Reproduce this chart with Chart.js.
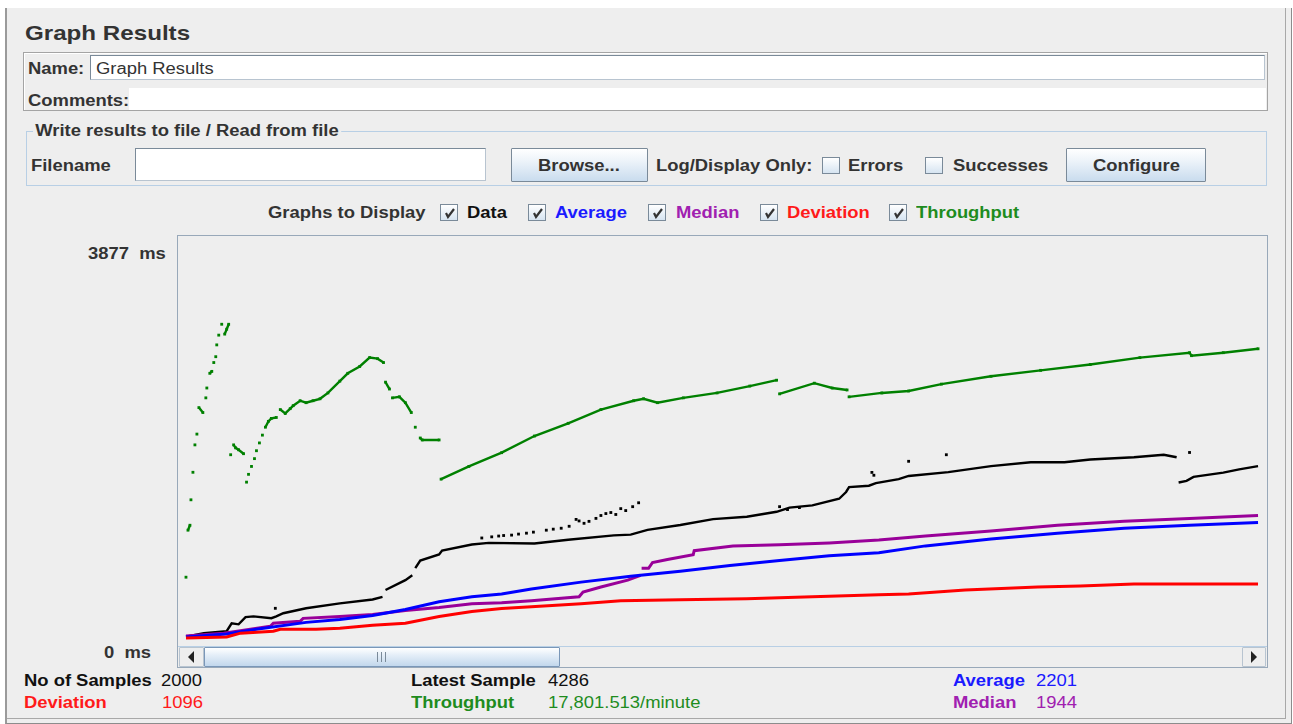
<!DOCTYPE html>
<html>
<head>
<meta charset="utf-8">
<script src="https://cdn.jsdelivr.net/npm/chart.js@4.4.1/dist/chart.umd.min.js"></script>
<style>
  * { box-sizing: border-box; }
  body { margin: 0; width: 1293px; height: 724px; background: #fff; overflow: hidden; position: relative;
         font-family: "Liberation Sans", Arial, sans-serif; color: #333; }
  .abs { position: absolute; }
  .tx { position: absolute; white-space: pre; font-size: 16px; line-height: 16px;
        transform: scaleX(1.15); transform-origin: 0 0; }
  .b { font-weight: bold; }
  .field { position: absolute; background: #fff; border: 1px solid #7a8a99; border-right-color: #b8c4d0; border-bottom-color: #b8c4d0; }
  .btn { position: absolute; border: 1px solid #7a8a99; border-radius: 1px;
         background: linear-gradient(#ffffff 0%, #eef4fa 35%, #c9dcee 100%); }
  .cb { position: absolute; width: 18px; height: 17px; border: 1px solid #7a8a99;
        background: linear-gradient(#ffffff, #d6e4f1); }
  .cb svg { position: absolute; left: 2px; top: 2px; }
</style>
</head>
<body>
<div class="abs" style="left:5px;top:8px;width:1287px;height:716px;background:#eeeeee;border-left:2px solid #9a9a9a;border-right:1px solid #8c8c8c;border-bottom:1px solid #8c8c8c;"></div>
<div class="abs" style="left:7px;top:8px;width:1279px;height:711px;border-right:1px solid #a8a8a8;border-bottom:1px solid #a8a8a8;"></div>

<div class="tx b" style="left:25px;top:22px;font-size:21px;line-height:21px;">Graph Results</div>

<!-- name / comments -->
<div class="abs" style="left:23px;top:52px;width:1245px;height:59px;border:1px solid #a4a4a4;box-shadow:inset 1px 1px 0 #fff;"></div>
<div class="tx b" style="left:28px;top:61px;">Name:</div>
<div class="field" style="left:90px;top:55px;width:1175px;height:25px;"></div>
<div class="tx" style="left:96px;top:61px;">Graph Results</div>
<div class="tx b" style="left:28px;top:93px;">Comments:</div>
<div class="abs" style="left:129px;top:88px;width:1137px;height:22px;background:#fff;"></div>

<!-- write results to file -->
<div class="abs" style="left:26px;top:131px;width:1241px;height:55px;border:1px solid #b8cfe5;"></div>
<div class="tx b" style="left:33px;top:123px;background:#eeeeee;padding:0 2px;">Write results to file / Read from file</div>
<div class="tx b" style="left:31px;top:158px;">Filename</div>
<div class="field" style="left:135px;top:148px;width:351px;height:33px;"></div>
<div class="btn" style="left:511px;top:148px;width:137px;height:34px;"></div>
<div class="tx b" style="left:538px;top:158px;">Browse...</div>
<div class="tx b" style="left:656px;top:158px;">Log/Display Only:</div>
<div class="cb" style="left:822px;top:157px;"></div>
<div class="tx b" style="left:848px;top:158px;">Errors</div>
<div class="cb" style="left:925px;top:157px;"></div>
<div class="tx b" style="left:953px;top:158px;">Successes</div>
<div class="btn" style="left:1066px;top:148px;width:140px;height:34px;"></div>
<div class="tx b" style="left:1093px;top:158px;">Configure</div>

<!-- graphs to display -->
<div class="tx b" style="left:268px;top:205px;">Graphs to Display</div>
<div class="cb" style="left:440px;top:204px;"><svg width="13" height="12"><path d="M3 6 L5 10 L11 2" stroke="#333" stroke-width="2.2" fill="none"/></svg></div>
<div class="tx b" style="left:467px;top:205px;color:#111;">Data</div>
<div class="cb" style="left:528px;top:204px;"><svg width="13" height="12"><path d="M3 6 L5 10 L11 2" stroke="#333" stroke-width="2.2" fill="none"/></svg></div>
<div class="tx b" style="left:555px;top:205px;color:#1a1aff;">Average</div>
<div class="cb" style="left:648px;top:204px;"><svg width="13" height="12"><path d="M3 6 L5 10 L11 2" stroke="#333" stroke-width="2.2" fill="none"/></svg></div>
<div class="tx b" style="left:676px;top:205px;color:#a020b0;">Median</div>
<div class="cb" style="left:760px;top:204px;"><svg width="13" height="12"><path d="M3 6 L5 10 L11 2" stroke="#333" stroke-width="2.2" fill="none"/></svg></div>
<div class="tx b" style="left:787px;top:205px;color:#ff1a1a;">Deviation</div>
<div class="cb" style="left:889px;top:204px;"><svg width="13" height="12"><path d="M3 6 L5 10 L11 2" stroke="#333" stroke-width="2.2" fill="none"/></svg></div>
<div class="tx b" style="left:916px;top:205px;color:#1e8c1e;">Throughput</div>

<!-- graph panel -->
<div class="tx b" style="left:88px;top:246px;">3877  ms</div>
<div class="tx b" style="left:104px;top:645px;">0  ms</div>
<div class="abs" style="left:177px;top:235px;width:1091px;height:433px;border:1px solid #98a8b9;"></div>
<div class="abs" id="plot" style="left:180px;top:237px;width:1086px;height:406px;">
  <canvas id="graph"></canvas>
</div>

<!-- scrollbar -->
<div class="abs" style="left:178px;top:646px;width:1089px;height:21px;border-top:1px solid #b8cfe5;background:#eeeeee;"></div>
<div class="btn" style="left:179px;top:647px;width:25px;height:20px;background:#eeeeee;border-color:#b8c4d0;"></div>
<svg class="abs" style="left:186px;top:651px;" width="10" height="12"><path d="M8 0 L2 6 L8 12 Z" fill="#222"/></svg>
<div class="btn" style="left:204px;top:647px;width:356px;height:20px;border-color:#7a97b8;background:linear-gradient(#ffffff 0%,#e4eef8 40%,#c2d7ec 100%);"></div>
<div class="abs" style="left:377px;top:652px;width:9px;height:10px;border-left:1px solid #7a8a99;border-right:1px solid #7a8a99;"></div>
<div class="abs" style="left:381px;top:652px;width:1px;height:10px;background:#7a8a99;"></div>
<div class="btn" style="left:1242px;top:647px;width:24px;height:20px;background:#eeeeee;border-color:#b8c4d0;"></div>
<svg class="abs" style="left:1250px;top:651px;" width="10" height="12"><path d="M1 0 L7 6 L1 12 Z" fill="#222"/></svg>

<!-- summary -->
<div class="tx b" style="left:24px;top:673px;color:#111;">No of Samples</div>
<div class="tx" style="left:161px;top:673px;color:#111;">2000</div>
<div class="tx b" style="left:24px;top:695px;color:#ff1a1a;">Deviation</div>
<div class="tx" style="left:162px;top:695px;color:#ff1a1a;">1096</div>
<div class="tx b" style="left:411px;top:673px;color:#111;">Latest Sample</div>
<div class="tx" style="left:548px;top:673px;color:#111;">4286</div>
<div class="tx b" style="left:411px;top:695px;color:#1e8c1e;">Throughput</div>
<div class="tx" style="left:548px;top:695px;color:#1e8c1e;">17,801.513/minute</div>
<div class="tx b" style="left:953px;top:673px;color:#1a1aff;">Average</div>
<div class="tx" style="left:1036px;top:673px;color:#1a1aff;">2201</div>
<div class="tx b" style="left:953px;top:695px;color:#a020b0;">Median</div>
<div class="tx" style="left:1036px;top:695px;color:#a020b0;">1944</div>

<script>
// x = sample position along the scrolled view, y = milliseconds
const yMax = 3877;
const xMax = 1086;

// Data (individual samples)
const dataX  = [2,20,43,48,55,62,70,88,93,100,123,157,190,200,203,223,230,233,238,257,260,290,307,353,387,433,450,467,500,533,567,597,610,633,660,667,670,690,697,720,730,770,813,853,887,913,957,987,1000,1002,1010,1017,1047,1063,1082];
const dataMs = [22,57,76,153,143,213,220,203,220,251,299,347,385,411,477,573,621,690,764,824,862,920,936,931,967,1009,1017,1063,1111,1168,1191,1239,1280,1302,1366,1432,1480,1493,1518,1557,1588,1626,1684,1722,1722,1748,1770,1795,1770,1525,1540,1579,1621,1652,1684];
// scattered samples above the main band
const strayX  = [92,300,310,317,322,330,337,345,352,365,372,380,388,395,398,403,408,415,420,425,430,435,440,445,452,458,600,608,620,693,695,730,768,1013];
const strayMs = [299,984,995,1003,1008,1012,1022,1031,1041,1060,1070,1079,1098,1165,1150,1127,1146,1175,1203,1222,1232,1213,1270,1251,1289,1327,1289,1261,1280,1623,1595,1731,1795,1817];

// Average
const avgX  = [2,43,73,123,157,190,223,257,290,320,350,400,450,500,550,600,650,700,747,813,880,947,1013,1082];
const avgMs = [19,48,95,162,191,229,287,363,411,439,487,554,611,659,716,764,812,840,907,974,1031,1079,1108,1136];

// Median
const medX  = [2,40,87,90,117,120,157,190,223,257,290,320,350,398,402,420,447,460,461,468,472,487,513,514,553,600,650,700,747,813,880,947,1013,1082];
const medMs = [29,57,124,153,172,201,220,239,277,306,344,353,372,411,458,506,573,621,688,688,745,774,821,860,907,917,936,965,1003,1051,1108,1146,1175,1203];

// Deviation
const devX  = [2,43,57,90,97,133,157,190,223,257,290,320,350,400,440,500,567,633,700,730,787,860,903,957,1082];
const devMs = [10,19,57,76,95,95,105,134,153,220,267,296,315,344,372,382,392,411,430,439,477,506,516,535,535];

// Throughput (plotted on the same scale)
const tpX  = [2,4,6,7,9,11,13,15,19,22,23,26,28,30,32,33,35,38,41,43,45,47,50,52,55,60,63,65,68,71,73,76,79,82,85,88,93,97,102,107,110,117,123,130,137,145,157,165,177,187,195,201,203,207,210,217,223,229,233,238,240,257,259,287,320,353,387,420,453,463,477,503,537,570,597,600,635,653,668,670,703,730,763,813,863,913,963,1013,1015,1047,1082];
const tpMs = [602,1060,1108,1356,1624,1891,1996,2254,2206,2349,2445,2588,2607,2693,2750,2865,2960,3066,2970,3018,3066,1795,1891,1862,1843,1805,1528,1604,1681,1757,1834,1910,1986,2063,2120,2149,2158,2235,2197,2244,2273,2321,2302,2321,2340,2397,2512,2588,2655,2741,2731,2693,2502,2435,2349,2359,2302,2206,2063,1958,1939,1939,1557,1681,1815,1977,2101,2235,2321,2340,2302,2349,2397,2464,2521,2388,2492,2445,2426,2359,2397,2416,2483,2559,2617,2674,2741,2789,2760,2789,2827];

function pts(xs, ys) {
  return xs.map((x, i) => ({ x: x, y: ys[i] }));
}

// JMeter plots dots, so steep jumps between neighbours stay unconnected
function dotted(color) {
  return ctx => {
    const dx = Math.abs(ctx.p1.x - ctx.p0.x);
    const dy = Math.abs(ctx.p1.y - ctx.p0.y);
    return dy > dx * 1.2 + 3 ? 'rgba(0,0,0,0)' : color;
  };
}

function series(label, xs, ys, color, width, radius) {
  return {
    label: label,
    data: pts(xs, ys),
    borderColor: color,
    backgroundColor: color,
    borderWidth: width,
    pointRadius: radius,
    pointStyle: 'rect',
    pointBorderWidth: 0,
    segment: { borderColor: dotted(color) },
    clip: false
  };
}

const ctx = document.getElementById('graph').getContext('2d');
new Chart(ctx, {
  type: 'line',
  data: {
    datasets: [
      series('Deviation', devX, devMs, '#ff0000', 3, 0),
      series('Average', avgX, avgMs, '#0000ff', 3, 0),
      series('Median', medX, medMs, '#990099', 3, 0),
      series('Data', dataX, dataMs, '#000000', 2.4, 0),
      Object.assign(series('Data', strayX, strayMs, '#000000', 0, 2), { showLine: false }),
      series('Throughput', tpX, tpMs, '#008000', 2.4, 2)
    ]
  },
  options: {
    responsive: true,
    maintainAspectRatio: false,
    animation: false,
    layout: { padding: 0 },
    plugins: { legend: { display: false }, tooltip: { enabled: false } },
    scales: {
      x: { type: 'linear', min: 0, max: xMax, display: false },
      y: { type: 'linear', min: 0, max: yMax, display: false }
    }
  }
});
</script>
</body>
</html>
